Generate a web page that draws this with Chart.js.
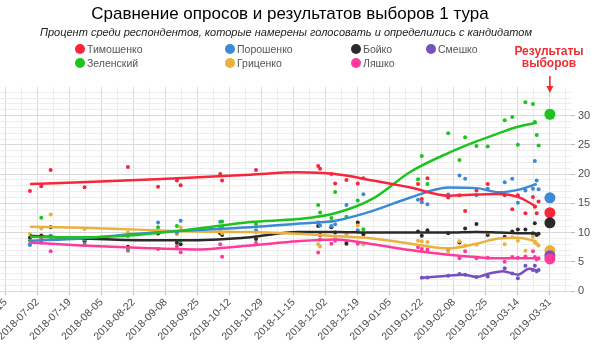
<!DOCTYPE html>
<html>
<head>
<meta charset="utf-8">
<script src="https://cdn.jsdelivr.net/npm/chart.js@4.4.0/dist/chart.umd.min.js"></script>
<style>
  body { margin: 0; background: #fff; font-family: "Liberation Sans", Arial, sans-serif; }
  #wrap { position: relative; width: 600px; height: 345px; overflow: hidden; }
  #chart { position: absolute; left: 0; top: 0; }
  .title { position: absolute; left: 0; width: 580px; top: 4px; text-align: center; font-size: 17px; line-height: 20px; color: #000; }
  .subtitle { position: absolute; left: 0; width: 572px; top: 26px; text-align: center; font-size: 11px; line-height: 13px; font-style: italic; color: #222; }
  .lg { position: absolute; height: 14px; display: flex; align-items: center; font-size: 10.5px; color: #555; white-space: nowrap; }
  .lg i { display: inline-block; width: 10px; height: 10px; border-radius: 50%; margin-right: 2px; }
  .note { position: absolute; left: 499px; width: 100px; top: 45px; text-align: center; font-size: 12px; line-height: 12px; font-weight: bold; color: #ee2e33; }
</style>
</head>
<body>
<div id="wrap">
  <canvas id="chart" width="600" height="345"></canvas>
  <div class="title">Сравнение опросов и результатов выборов 1 тура</div>
  <div class="subtitle">Процент среди респондентов, которые намерены голосовать и определились с кандидатом</div>
  <div class="note">Результаты<br>выборов</div>
</div>
<script>
// подписи оси X (каждые 17 дней)
const dateTicks = ['2018-06-15', '2018-07-02', '2018-07-19', '2018-08-05', '2018-08-22', '2018-09-08',
  '2018-09-25', '2018-10-12', '2018-10-29', '2018-11-15', '2018-12-02', '2018-12-19', '2019-01-05',
  '2019-01-22', '2019-02-08', '2019-02-25', '2019-03-14', '2019-03-31'];

const candidates = ['Тимошенко', 'Зеленский', 'Порошенко', 'Гриценко', 'Бойко', 'Ляшко', 'Смешко'];
const colors = ['#f7263b', '#1ec31e', '#3a8ad6', '#e9b23c', '#2a2a2a', '#ff3a9d', '#7650c0'];

// опросы
const pollDates = ['2018-06-28', '2018-07-04', '2018-07-09', '2018-07-27', '2018-08-19', '2018-09-04',
  '2018-09-14', '2018-09-16', '2018-10-07', '2018-10-08', '2018-10-26', '2018-11-28', '2018-11-29',
  '2018-12-05', '2018-12-07', '2018-12-13', '2018-12-19', '2018-12-22', '2019-01-20', '2019-01-22',
  '2019-01-25', '2019-02-05', '2019-02-11', '2019-02-14', '2019-02-20', '2019-02-26', '2019-03-07',
  '2019-03-11', '2019-03-14', '2019-03-18', '2019-03-22', '2019-03-23', '2019-03-24', '2019-03-25'];
const tymoshenkoPolls = [17.1, 17.9, 20.7, 17.75, 21.2, 17.85, 18.9, 18.1, 20.0, 18.9, 20.7, 21.4, 20.9,
  20.0, 18.4, 19.0, 18.4, 19.3, 18.3, 15.75, 19.3, 16.0, 16.4, 13.7, 17.2, 18.3, 16.4, 14.0, 16.4, 13.3,
  16.1, 14.4, 13.3, 15.3];
const zelenskyPolls = [8.6, 12.55, 9.3, 8.0, 7.2, 10.9, 11.1, 8.6, 11.0, 11.9, 11.45, 14.7, 13.45,
  12.5, 16.95, 12.7, 15.5, 10.55, 19.1, 23.1, 18.3, 27.0, 22.4, 26.3, 24.8, 24.7, 29.2, 29.75, 25.0, 32.3,
  32.0, 28.9, 26.7, 24.9];
const poroshenkoPolls = [7.85, 8.3, 9.45, 8.8, 9.4, 11.7, 10.0, 12.0, 11.85, 11.0, 10.4, 11.7, 11.2,
  11.1, 11.4, 14.7, 10.4, 16.55, 15.6, 15.2, 14.85, 16.5, 19.75, 19.2, 16.4, 17.5, 18.6, 19.2, 15.1, 17.2,
  17.5, 22.25, 18.9, 17.4];
const hrytsenkoPolls = [9.75, 10.7, 13.1, 10.6, 10.0, 10.3, 9.7, 10.9, 10.6, 9.9, 10.0, 8.0, 7.6,
  11.9, 9.0, 9.7, 11.2, 8.0, 8.6, 8.5, 8.4, 6.7, 8.5, 7.8, 7.9, 10.0, 8.0, 9.2, 8.6, 6.9, 9.3, 8.3, 8.1, 7.8];
const boykoPolls = [9.1, 9.5, 10.9, 8.6, 7.55, 9.85, 8.25, 8.0, 9.9, 9.6, 8.9, 11.1, 9.6,
  10.9, 10.0, 8.1, 11.7, 9.7, 10.2, 9.45, 10.4, 9.9, 8.3, 10.7, 11.45, 9.6, 9.3, 10.2, 10.5, 10.5, 9.9,
  11.6, 9.6, 9.8];
const lyashkoPolls = [8.0, 9.0, 6.8, 8.5, 6.9, 7.2, 7.6, 6.65, 8.0, 5.85, 8.2, 6.6, 8.8,
  8.1, 8.6, 8.4, 8.1, 8.0, 7.5, 7.2, 7.1, 7.0, 5.6, 6.8, 5.6, 5.7, 5.0, 5.8, 5.7, 5.9, 6.8, 5.8, 5.4, 5.6];
const smeshkoPolls = [null, null, null, null, null, null, null, null, null, null, null, null, null,
  null, null, null, null, null, null, 2.25, 2.3, 2.6, 2.9, 2.8, 2.4, 2.5, 3.9, 3.0, 2.2, 4.3, 3.6, 4.3, 3.4, 3.6];

// сглаженные тренды
const trendDates = ['2018-06-28', '2018-07-25', '2018-08-24', '2018-09-23', '2018-10-23', '2018-11-17',
  '2018-12-07', '2018-12-27', '2019-01-16', '2019-02-05', '2019-02-20', '2019-03-04', '2019-03-14', '2019-03-24'];
const tymoshenkoTrend = [18.3, 18.6, 19.0, 19.4, 19.9, 20.3, 20.0, 18.9, 17.7, 16.3, 16.5, 16.6, 16.1, 14.4];
const zelenskyTrend = [9.3, 9.2, 9.6, 10.6, 11.8, 12.3, 13.3, 15.8, 20.4, 23.6, 25.6, 27.0, 28.1, 28.8];
const poroshenkoTrend = [8.6, 9.0, 9.8, 10.4, 10.9, 11.5, 12.0, 13.7, 16.0, 17.7, 17.6, 16.9, 17.3, 18.3];
const hrytsenkoTrend = [11.0, 10.8, 10.5, 10.2, 10.1, 9.8, 9.4, 9.0, 8.1, 7.3, 8.1, 9.0, 9.1, 8.5];
const boykoTrend = [9.45, 9.0, 8.7, 8.7, 9.2, 10.1, 10.1, 10.0, 10.0, 10.0, 10.1, 10.0, 9.9, 9.85];
const lyashkoTrend = [8.3, 7.8, 7.4, 7.1, 7.8, 8.5, 8.8, 8.0, 7.0, 6.2, 5.8, 5.6, 5.6, 5.6];
const smeshkoTrendDates = ['2019-01-22', '2019-02-05', '2019-02-13', '2019-02-20', '2019-02-27',
  '2019-03-06', '2019-03-14', '2019-03-20', '2019-03-24'];
const smeshkoTrend = [2.25, 2.6, 2.8, 2.4, 3.0, 3.4, 2.8, 3.8, 3.5];

// результаты выборов
const resultDate = '2019-03-31';
const resultValues = [13.40, 30.24, 15.95, 6.91, 11.67, 5.48, 6.04];

// --- вспомогательные ---
function dayNum(s) {
  const [y, m, d] = s.split('-').map(Number);
  return (Date.UTC(y, m - 1, d) - Date.UTC(2018, 5, 15)) / 86400000;
}

const pollSets = [tymoshenkoPolls, zelenskyPolls, poroshenkoPolls, hrytsenkoPolls, boykoPolls, lyashkoPolls, smeshkoPolls];
const trendSets = [tymoshenkoTrend, zelenskyTrend, poroshenkoTrend, hrytsenkoTrend, boykoTrend, lyashkoTrend, smeshkoTrend];

const datasets = [];

// точки результатов (самые маленькие сверху)
const resOrder = candidates.map((c, i) => i).sort((a, b) => resultValues[b] - resultValues[a]);
datasets.push({
  type: 'scatter',
  data: resOrder.map(i => ({ x: dayNum(resultDate), y: resultValues[i] })),
  pointRadius: 5.5,
  pointBackgroundColor: resOrder.map(i => colors[i]),
  pointBorderWidth: 0,
  order: 0
});

candidates.forEach((name, i) => {
  const tDates = name === 'Смешко' ? smeshkoTrendDates : trendDates;
  datasets.push({
    type: 'line',
    label: name,
    data: tDates.map((d, k) => ({ x: dayNum(d), y: trendSets[i][k] })),
    borderColor: colors[i],
    borderWidth: 2.5,
    pointRadius: 0,
    cubicInterpolationMode: 'monotone',
    fill: false,
    order: 1
  });
  datasets.push({
    type: 'scatter',
    label: name + ' опросы',
    data: pollDates.map((d, k) => ({ x: dayNum(d), y: pollSets[i][k] })).filter(p => p.y !== null),
    pointRadius: 2,
    pointBackgroundColor: colors[i],
    pointBorderWidth: 0,
    order: 2
  });
});

// легенда
const legendSlots = [[80, 49], [80, 62.5], [230, 49], [230, 62.5], [356, 49], [356, 62.5], [431, 49]];
const wrap = document.getElementById('wrap');
candidates.forEach((name, i) => {
  const el = document.createElement('div');
  el.className = 'lg';
  el.style.left = (legendSlots[i][0] - 5) + 'px';
  el.style.top = (legendSlots[i][1] - 7) + 'px';
  el.innerHTML = '<i style="background:' + colors[i] + '"></i>' + name;
  wrap.appendChild(el);
});

const majorDays = dateTicks.map(dayNum);

// стрелка к результатам
const arrowPlugin = {
  id: 'arrow',
  afterDatasetsDraw(chart) {
    const ctx = chart.ctx;
    const x = chart.scales.x.getPixelForValue(dayNum(resultDate));
    ctx.save();
    ctx.strokeStyle = '#ee2e33';
    ctx.fillStyle = '#ee2e33';
    ctx.lineWidth = 1.6;
    ctx.beginPath();
    ctx.moveTo(x, 76);
    ctx.lineTo(x, 88);
    ctx.stroke();
    ctx.beginPath();
    ctx.moveTo(x - 3.5, 86);
    ctx.lineTo(x + 3.5, 86);
    ctx.lineTo(x, 93);
    ctx.closePath();
    ctx.fill();
    ctx.restore();
  }
};

new Chart(document.getElementById('chart'), {
  data: { datasets },
  plugins: [arrowPlugin],
  options: {
    responsive: false,
    animation: false,
    layout: { autoPadding: false, padding: { top: 87, left: 0, right: 0, bottom: 0 } },
    plugins: { legend: { display: false }, tooltip: { enabled: false } },
    scales: {
      x: {
        type: 'linear',
        min: -2.9,
        max: 300.2,
        afterBuildTicks(scale) {
          const t = [];
          majorDays.forEach(v => {
            t.push({ value: v });
            if (v + 8.5 <= scale.max) t.push({ value: v + 8.5 });
          });
          scale.ticks = t;
        },
        afterFit(scale) {
          scale.height = 54;
          scale.paddingLeft = 0;
          scale.paddingRight = 0;
        },
        border: { display: false },
        grid: {
          color: c => (c.tick && majorDays.includes(c.tick.value)) ? '#d9d9d9' : '#ededed',
          tickColor: c => (c.tick && majorDays.includes(c.tick.value)) ? '#bdbdbd' : 'rgba(0,0,0,0)',
          tickLength: 4
        },
        ticks: {
          autoSkip: false,
          minRotation: 45,
          maxRotation: 45,
          padding: 1,
          color: '#4d4d4d',
          font: { family: 'Liberation Sans', size: 10.5 },
          callback: v => {
            const k = majorDays.indexOf(v);
            return k >= 0 ? dateTicks[k] : '';
          }
        }
      },
      y: {
        position: 'right',
        min: 0,
        max: 34.9,
        afterFit(scale) {
          scale.width = 29;
          scale.paddingTop = 0;
          scale.paddingBottom = 0;
        },
        border: { display: false },
        grid: {
          color: c => (c.tick && c.tick.value % 5 === 0) ? '#d9d9d9' : '#ededed',
          tickColor: c => (c.tick && c.tick.value % 5 === 0) ? '#bdbdbd' : 'rgba(0,0,0,0)',
          tickLength: 4
        },
        ticks: {
          stepSize: 1,
          includeBounds: false,
          autoSkip: false,
          padding: 3,
          color: '#4d4d4d',
          font: { family: 'Liberation Sans', size: 11 },
          callback: v => (v % 5 === 0 ? v : '')
        }
      }
    }
  }
});
</script>
</body>
</html>
